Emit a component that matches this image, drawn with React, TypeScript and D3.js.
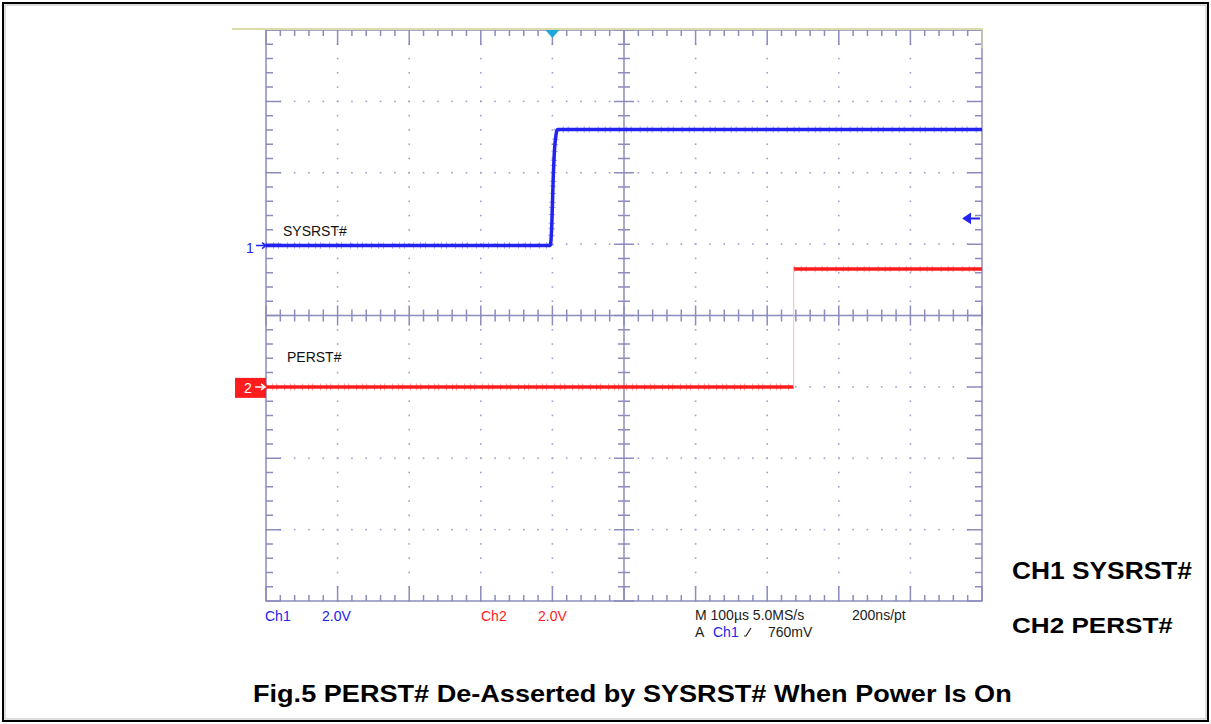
import * as d3 from 'd3';
import { useLayoutEffect, useRef, useState } from 'react';

// time in µs relative to trigger, volts per channel
const ch1Times = [-400, -3, -1, 1, 3, 5, 7, 600];
const ch1Volts = [0, 0, 0.5, 1.8, 2.7, 3.1, 3.25, 3.25];
const ch2LowTimes = [-400, 337];
const ch2LowVolts = [0, 0];
const ch2HighTimes = [337, 600];
const ch2HighVolts = [3.3, 3.3];

const timeDomain = [-400, 600];
const voltsPerDiv = 2.0;
const ch1PosDiv = 0.98;
const ch2PosDiv = -1.0;
const triggerLevel = 0.76;

const legendLabels = ['CH1 SYSRST#', 'CH2 PERST#'];
const titleText = 'Fig.5 PERST# De-Asserted by SYSRST# When Power Is On';

const W = 1211;
const H = 724;
const left = 266;
const right = 982;
const top = 30;
const bottom = 601;

const gridColor = '#8c8cbe';
const blue = '#2323f0';
const red = '#ff1c1c';

const boldFont = {
  fontFamily: 'Liberation Sans, Arial, sans-serif',
  fontSize: 23,
  fontWeight: 700,
};

// bold text fitted horizontally to a given width
function StretchText({ x, y, width, children }: { x: number; y: number; width: number; children: string }) {
  const ref = useRef<SVGTextElement>(null);
  const [sx, setSx] = useState(1);
  useLayoutEffect(() => {
    const len = ref.current?.getComputedTextLength() ?? 0;
    if (len > 0) setSx(width / len);
  }, [width, children]);
  return (
    <text ref={ref} transform={`translate(${x},${y}) scale(${sx},1)`} fill="#000" style={boldFont}>
      {children}
    </text>
  );
}

export default function App() {
  const x = d3.scaleLinear().domain(timeDomain).range([left, right]);
  const div = d3.scaleLinear().domain([-4, 4]).range([bottom, top]);
  const xDiv = d3.scaleLinear().domain([0, 10]).range([left, right]);
  const y1 = (v: number) => div(ch1PosDiv + v / voltsPerDiv);
  const y2 = (v: number) => div(ch2PosDiv + v / voltsPerDiv);

  const line1 = d3
    .line<number>()
    .x((_, i) => x(ch1Times[i]))
    .y((v) => y1(v))
    .curve(d3.curveMonotoneX);
  const lineCh2 = (ts: number[], vs: number[]) =>
    d3
      .line<number>()
      .x((_, i) => x(ts[i]))
      .y((v) => y2(v))(vs) ?? '';

  const minorX = d3.range(0, 50.001, 1).map((k) => k / 5);
  const minorY = d3.range(-20, 20.001, 1).map((k) => k / 5);
  const cx = xDiv(5);
  const cy = div(0);

  const dots: [number, number][] = [];
  for (let k = 1; k < 10; k++) {
    if (k === 5) continue;
    minorY.forEach((m) => dots.push([xDiv(k), div(m)]));
  }
  for (let k = -3; k <= 3; k++) {
    if (k === 0) continue;
    minorX.forEach((m) => dots.push([xDiv(m), div(k)]));
  }

  const ticks: string[] = [];
  minorX.forEach((m) => {
    const px = xDiv(m);
    const major = Math.abs(m - Math.round(m)) < 1e-6;
    const len = major ? 15 : 6;
    ticks.push(`M${px},${top}V${top + len}`);
    ticks.push(`M${px},${bottom}V${bottom - len}`);
    const c = major ? 10 : 6;
    ticks.push(`M${px},${cy - c}V${cy + c}`);
  });
  minorY.forEach((m) => {
    const py = div(m);
    const major = Math.abs(m - Math.round(m)) < 1e-6;
    const len = major ? 15 : 7;
    ticks.push(`M${left},${py}H${left + len}`);
    ticks.push(`M${right},${py}H${right - len}`);
    const c = major ? 10 : 6;
    ticks.push(`M${cx - c},${py}H${cx + c}`);
  });

  const trigX = x(0);
  const trigY = y1(triggerLevel);
  const g1 = y1(0);
  const g2 = y2(0);

  const scopeFont = { fontFamily: 'Liberation Sans, Arial, sans-serif', fontSize: 14 };

  return (
    <svg
      width={W}
      height={H}
      style={{ position: 'absolute', left: 0, top: 0, background: '#fff' }}
    >
      <rect x={3} y={3} width={W - 6} height={H - 6} fill="none" stroke="#000" strokeWidth={2} />
      <rect x={5} y={5} width={W - 10} height={H - 10} fill="none" stroke="#bbb" strokeWidth={1} />

      {/* dotted grid */}
      {dots.map(([dx, dy], i) => (
        <rect key={i} x={dx - 0.8} y={dy - 0.8} width={1.6} height={1.6} fill="#a0a0cc" />
      ))}
      <path d={ticks.join('')} stroke={gridColor} strokeWidth={1.5} fill="none" />
      <line x1={cx} x2={cx} y1={top} y2={bottom} stroke={gridColor} strokeWidth={1.5} />
      <line x1={left} x2={right} y1={cy} y2={cy} stroke={gridColor} strokeWidth={1.5} />
      <rect x={left} y={top} width={right - left} height={bottom - top} fill="none" stroke={gridColor} strokeWidth={1.5} />
      <line x1={232} x2={right + 1} y1={29} y2={29} stroke="#dcdcaa" strokeWidth={2} />
      <line x1={right} x2={right} y1={29} y2={48} stroke="#d0d0a8" strokeWidth={1.5} />

      {/* traces */}
      <path d={lineCh2(ch2LowTimes, ch2LowVolts)} stroke={red} strokeWidth={3.5} fill="none" />
      <path d={lineCh2(ch2LowTimes, ch2LowVolts)} stroke={red} strokeWidth={7} strokeDasharray="1 5 1 3 1 7" opacity={0.4} fill="none" />
      <path d={lineCh2(ch2HighTimes, ch2HighVolts)} stroke={red} strokeWidth={3.5} fill="none" />
      <path d={lineCh2(ch2HighTimes, ch2HighVolts)} stroke={red} strokeWidth={6.5} strokeDasharray="1 6 1 4 1 8" opacity={0.4} fill="none" />
      <line x1={x(ch2HighTimes[0])} x2={x(ch2HighTimes[0])} y1={y2(ch2LowVolts[1])} y2={y2(ch2HighVolts[0])} stroke="#ffbcbc" strokeWidth={1} />
      <path d={line1(ch1Volts) ?? ''} stroke={blue} strokeWidth={3.5} fill="none" />
      <path d={line1(ch1Volts) ?? ''} stroke={blue} strokeWidth={6.5} strokeDasharray="1 6 1 4 1 8" opacity={0.4} fill="none" />

      {/* trigger marker */}
      <path d={`M${trigX - 7},${top}L${trigX + 7},${top}L${trigX},${top + 8}Z`} fill="#1ea8d8" />
      <path d={`M${right - 18},${trigY}l6,-4v8z M${right - 14},${trigY}H${right - 2}`} stroke={blue} strokeWidth={2} fill={blue} />

      {/* channel markers */}
      <text x={246} y={g1 + 7} fill={blue} style={scopeFont} fontSize={16}>1</text>
      <path d={`M256,${g1}H266 M262,${g1 - 3}L266,${g1}L262,${g1 + 3}`} stroke={blue} strokeWidth={1.5} fill="none" />
      <rect x={235} y={g2 - 9} width={31} height={20} fill={red} />
      <text x={244} y={g2 + 6} fill="#fff" style={scopeFont} fontSize={16}>2</text>
      <path d={`M255,${g2}H265 M261,${g2 - 3}L265,${g2}L261,${g2 + 3}`} stroke="#fff" strokeWidth={1.5} fill="none" />

      <text x={283} y={236} fill="#111" style={scopeFont} fontSize={15}>SYSRST#</text>
      <text x={287} y={362} fill="#111" style={scopeFont} fontSize={15}>PERST#</text>

      {/* scope readouts */}
      <text x={265} y={621} fill={blue} style={scopeFont}>Ch1</text>
      <text x={322} y={621} fill={blue} style={scopeFont}>2.0V</text>
      <text x={481} y={621} fill={red} style={scopeFont}>Ch2</text>
      <text x={538} y={621} fill={red} style={scopeFont}>2.0V</text>
      <text x={695} y={620} fill="#222" style={scopeFont}>M 100µs 5.0MS/s</text>
      <text x={852} y={620} fill="#222" style={scopeFont}>200ns/pt</text>
      <text x={695} y={637} fill="#222" style={scopeFont}>A</text>
      <text x={713} y={637} fill={blue} style={scopeFont}>Ch1</text>
      <path d="M744,636H746L751,628" stroke="#222" strokeWidth={1.2} fill="none" />
      <text x={768} y={637} fill="#222" style={scopeFont}>760mV</text>

      <StretchText x={1012} y={579} width={180}>{legendLabels[0]}</StretchText>
      <StretchText x={1012} y={633} width={161}>{legendLabels[1]}</StretchText>
      <StretchText x={253} y={702} width={759}>{titleText}</StretchText>
    </svg>
  );
}
